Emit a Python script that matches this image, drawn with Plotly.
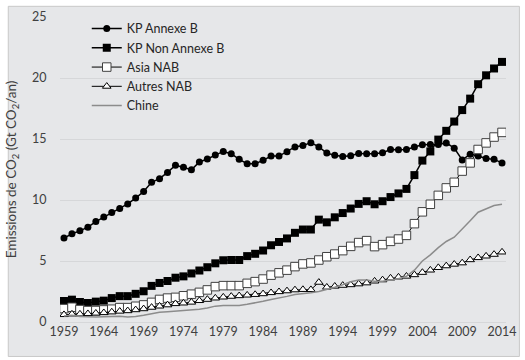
import plotly.graph_objects as go

years = list(range(1959, 2015))

kp_annexe_b = [
    6.88, 7.23, 7.47, 7.77, 8.23, 8.60, 8.98, 9.30, 9.68, 10.16,
    10.70, 11.45, 11.75, 12.26, 12.85, 12.69, 12.47, 13.12, 13.36, 13.68,
    13.98, 13.79, 13.33, 12.98, 12.98, 13.25, 13.60, 13.60, 13.95, 14.35,
    14.46, 14.70, 14.35, 13.85, 13.66, 13.56, 13.62, 13.82, 13.79, 13.79,
    13.87, 14.14, 14.12, 14.14, 14.35, 14.52, 14.54, 14.55, 14.68, 14.25,
    13.28, 13.76, 13.60, 13.41, 13.33, 13.04,
]

kp_non_annexe_b = [
    1.72, 1.83, 1.64, 1.56, 1.67, 1.75, 1.96, 2.12, 2.12, 2.31,
    2.52, 2.96, 3.20, 3.36, 3.63, 3.74, 3.98, 4.22, 4.49, 4.81,
    5.06, 5.08, 5.08, 5.40, 5.59, 5.86, 6.29, 6.56, 6.85, 7.31,
    7.58, 7.58, 8.39, 8.17, 8.58, 8.93, 9.30, 9.68, 9.90, 9.65,
    9.90, 10.24, 10.54, 10.91, 12.04, 13.23, 13.98, 14.95, 15.67, 16.43,
    17.37, 18.31, 19.49, 20.22, 20.78, 21.32,
]

asia_nab = [
    1.10, 1.21, 1.02, 0.94, 0.94, 0.99, 1.05, 1.18, 1.18, 1.29,
    1.40, 1.61, 1.85, 1.96, 2.02, 2.15, 2.28, 2.43, 2.63, 2.90,
    2.98, 2.98, 2.98, 3.17, 3.31, 3.52, 3.84, 4.03, 4.25, 4.54,
    4.76, 4.84, 5.08, 5.35, 5.57, 5.85, 6.20, 6.51, 6.67, 6.18,
    6.34, 6.61, 6.80, 7.10, 8.06, 9.03, 9.65, 10.38, 10.99, 11.45,
    12.37, 13.04, 14.14, 14.68, 15.16, 15.54,
]

autres_nab = [
    0.60, 0.65, 0.65, 0.68, 0.72, 0.76, 0.82, 0.88, 0.92, 1.00,
    1.08, 1.20, 1.30, 1.40, 1.50, 1.55, 1.62, 1.75, 1.85, 1.96,
    2.04, 2.10, 2.15, 2.20, 2.25, 2.31, 2.40, 2.48, 2.55, 2.63,
    2.66, 2.65, 3.25, 2.85, 2.93, 3.00, 3.05, 3.12, 3.20, 3.35,
    3.45, 3.60, 3.68, 3.75, 3.87, 4.06, 4.25, 4.46, 4.60, 4.73,
    4.84, 5.10, 5.27, 5.40, 5.54, 5.73,
]

chine = [
    0.50, 0.55, 0.45, 0.42, 0.42, 0.43, 0.45, 0.48, 0.42, 0.45,
    0.55, 0.70, 0.80, 0.85, 0.90, 0.92, 1.00, 1.05, 1.15, 1.30,
    1.35, 1.35, 1.35, 1.45, 1.55, 1.70, 1.85, 1.95, 2.10, 2.25,
    2.30, 2.40, 2.50, 2.65, 2.85, 3.05, 3.30, 3.45, 3.45, 3.35,
    3.35, 3.45, 3.55, 3.75, 4.25, 5.00, 5.50, 6.10, 6.60, 6.95,
    7.60, 8.30, 9.00, 9.25, 9.55, 9.65,
]

x_ticks = list(range(1959, 2015, 5))
y_ticks = [0, 5, 10, 15, 20, 25]

FONT = "Lato"
BG = "#e6e7e9"
GRID = "#d6d7d9"
TEXT = "#404040"

fig = go.Figure()

fig.add_trace(go.Scatter(
    x=years, y=kp_annexe_b, name="KP Annexe B", mode="lines+markers",
    line=dict(color="black", width=1.5),
    marker=dict(symbol="circle", size=7, color="black"),
))
fig.add_trace(go.Scatter(
    x=years, y=kp_non_annexe_b, name="KP Non Annexe B", mode="lines+markers",
    line=dict(color="black", width=1.5),
    marker=dict(symbol="square", size=8, color="black"),
))
fig.add_trace(go.Scatter(
    x=years, y=asia_nab, name="Asia NAB", mode="lines+markers",
    line=dict(color="black", width=1),
    marker=dict(symbol="square", size=8.5, color="white",
                line=dict(color="#404040", width=1)),
))
fig.add_trace(go.Scatter(
    x=years, y=autres_nab, name="Autres NAB", mode="lines+markers",
    line=dict(color="black", width=1),
    marker=dict(symbol="triangle-up", size=7.5, color="white",
                line=dict(color="black", width=1)),
))
fig.add_trace(go.Scatter(
    x=years, y=chine, name="Chine", mode="lines",
    line=dict(color="#8c8c8c", width=1.5),
))

# Grey chart frame with a thin border
fig.add_shape(
    type="rect", xref="paper", yref="paper",
    x0=-0.116, x1=1.03, y0=-0.113, y1=1.035,
    fillcolor=BG, line=dict(color="#c8c8c8", width=1), layer="below",
)

fig.update_layout(
    width=525, height=360,
    margin=dict(l=60, r=9, t=12, b=38),
    paper_bgcolor="white",
    plot_bgcolor=BG,
    font=dict(family=FONT, size=12, color=TEXT),
    showlegend=True,
    legend=dict(
        x=0.06, y=1.01, xanchor="left", yanchor="top",
        bgcolor="rgba(0,0,0,0)", font=dict(family=FONT, size=12.5, color="#262626"),
        itemwidth=30, tracegroupgap=0,
    ),
    xaxis=dict(
        range=[1958.5, 2014.5], tickmode="array", tickvals=x_ticks,
        ticktext=[str(v) for v in x_ticks],
        showgrid=False, zeroline=False, showline=False,
        ticks="", ticklabeloverflow="allow",
        tickfont=dict(family=FONT, size=12.5, color=TEXT),
    ),
    yaxis=dict(
        range=[0, 25], tickmode="array", tickvals=y_ticks,
        showgrid=True, gridcolor=GRID, gridwidth=1,
        zeroline=True, zerolinecolor=GRID, zerolinewidth=1, showline=False,
        ticks="outside", ticklen=10, tickcolor="rgba(0,0,0,0)",
        tickfont=dict(family=FONT, size=12.5, color=TEXT),
        title=dict(text="Emissions de CO<sub>2</sub> (Gt CO<sub>2</sub>/an)",
                   font=dict(family=FONT, size=13.5, color=TEXT), standoff=12),
    ),
)

fig.write_html("out.html")
